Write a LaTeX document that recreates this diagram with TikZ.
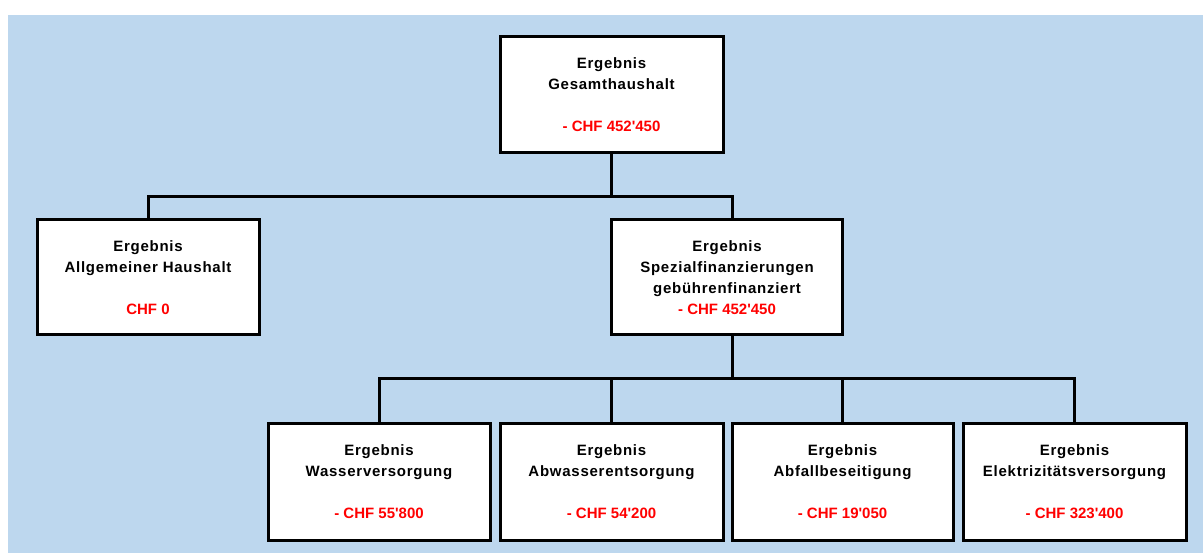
\documentclass[tikz,border=0pt]{standalone}
\usepackage{fontspec}
\setmainfont{Liberation Sans}
\newfontfamily\blackfont{Liberation Sans}[LetterSpace=5]
\newfontfamily\redfont{Liberation Sans}
\definecolor{bgblue}{RGB}{189,215,238}
\definecolor{valred}{RGB}{255,0,0}
\tikzset{
  orgbox/.style={draw=black, fill=white, line width=3pt, align=center,
    minimum width=222pt, minimum height=116pt, inner sep=0pt,
    font=\blackfont\bfseries\fontsize{15}{21}\selectfont},
  conn/.style={draw=black, line width=3pt},
}
\newcommand{\val}[1]{{\redfont\bfseries\color{valred}#1}}
\begin{document}
\begin{tikzpicture}[x=1pt,y=-1pt]
\useasboundingbox (0,0) rectangle (1203,553);
\fill[white] (0,0) rectangle (1203,553);
\fill[bgblue] (8,15) rectangle (1203,553);
\node[orgbox, minimum width=223pt] (top) at (611.5,95) {Ergebnis\\Gesamthaushalt\\[21pt]\val{- CHF 452\textquotesingle450}};
\node[orgbox, minimum height=115pt] (left) at (148,277.5) {Ergebnis\\Allgemeiner Haushalt\\[21pt]\val{CHF 0}};
\node[orgbox, minimum width=231pt, minimum height=115pt] (mid) at (727,277.5) {Ergebnis\\Spezialfinanzierungen\\gebührenfinanziert\\\val{- CHF 452\textquotesingle450}};
\node[orgbox] (b1) at (379,482) {Ergebnis\\Wasserversorgung\\[21pt]\val{- CHF 55\textquotesingle800}};
\node[orgbox, minimum width=223pt] (b2) at (611.5,482) {Ergebnis\\Abwasserentsorgung\\[21pt]\val{- CHF 54\textquotesingle200}};
\node[orgbox, minimum width=221pt] (b3) at (842.5,482) {Ergebnis\\Abfallbeseitigung\\[21pt]\val{- CHF 19\textquotesingle050}};
\node[orgbox, minimum width=223pt] (b4) at (1074.5,482) {Ergebnis\\Elektrizitätsversorgung\\[21pt]\val{- CHF 323\textquotesingle400}};
\coordinate (j1) at (611.5,197);
\coordinate (j2) at (732,379);
\draw[conn] (top.south) -- (j1);
\draw[conn] (left.north) |- (j1) -| ([xshift=5pt]mid.north);
\draw[conn] ([xshift=5pt]mid.south) -- (j2);
\draw[conn] (b1.north) |- (j2) -| (b4.north);
\draw[conn] (b2.north) -- (b2.north |- j2);
\draw[conn] (b3.north) -- (b3.north |- j2);
\end{tikzpicture}
\end{document}
